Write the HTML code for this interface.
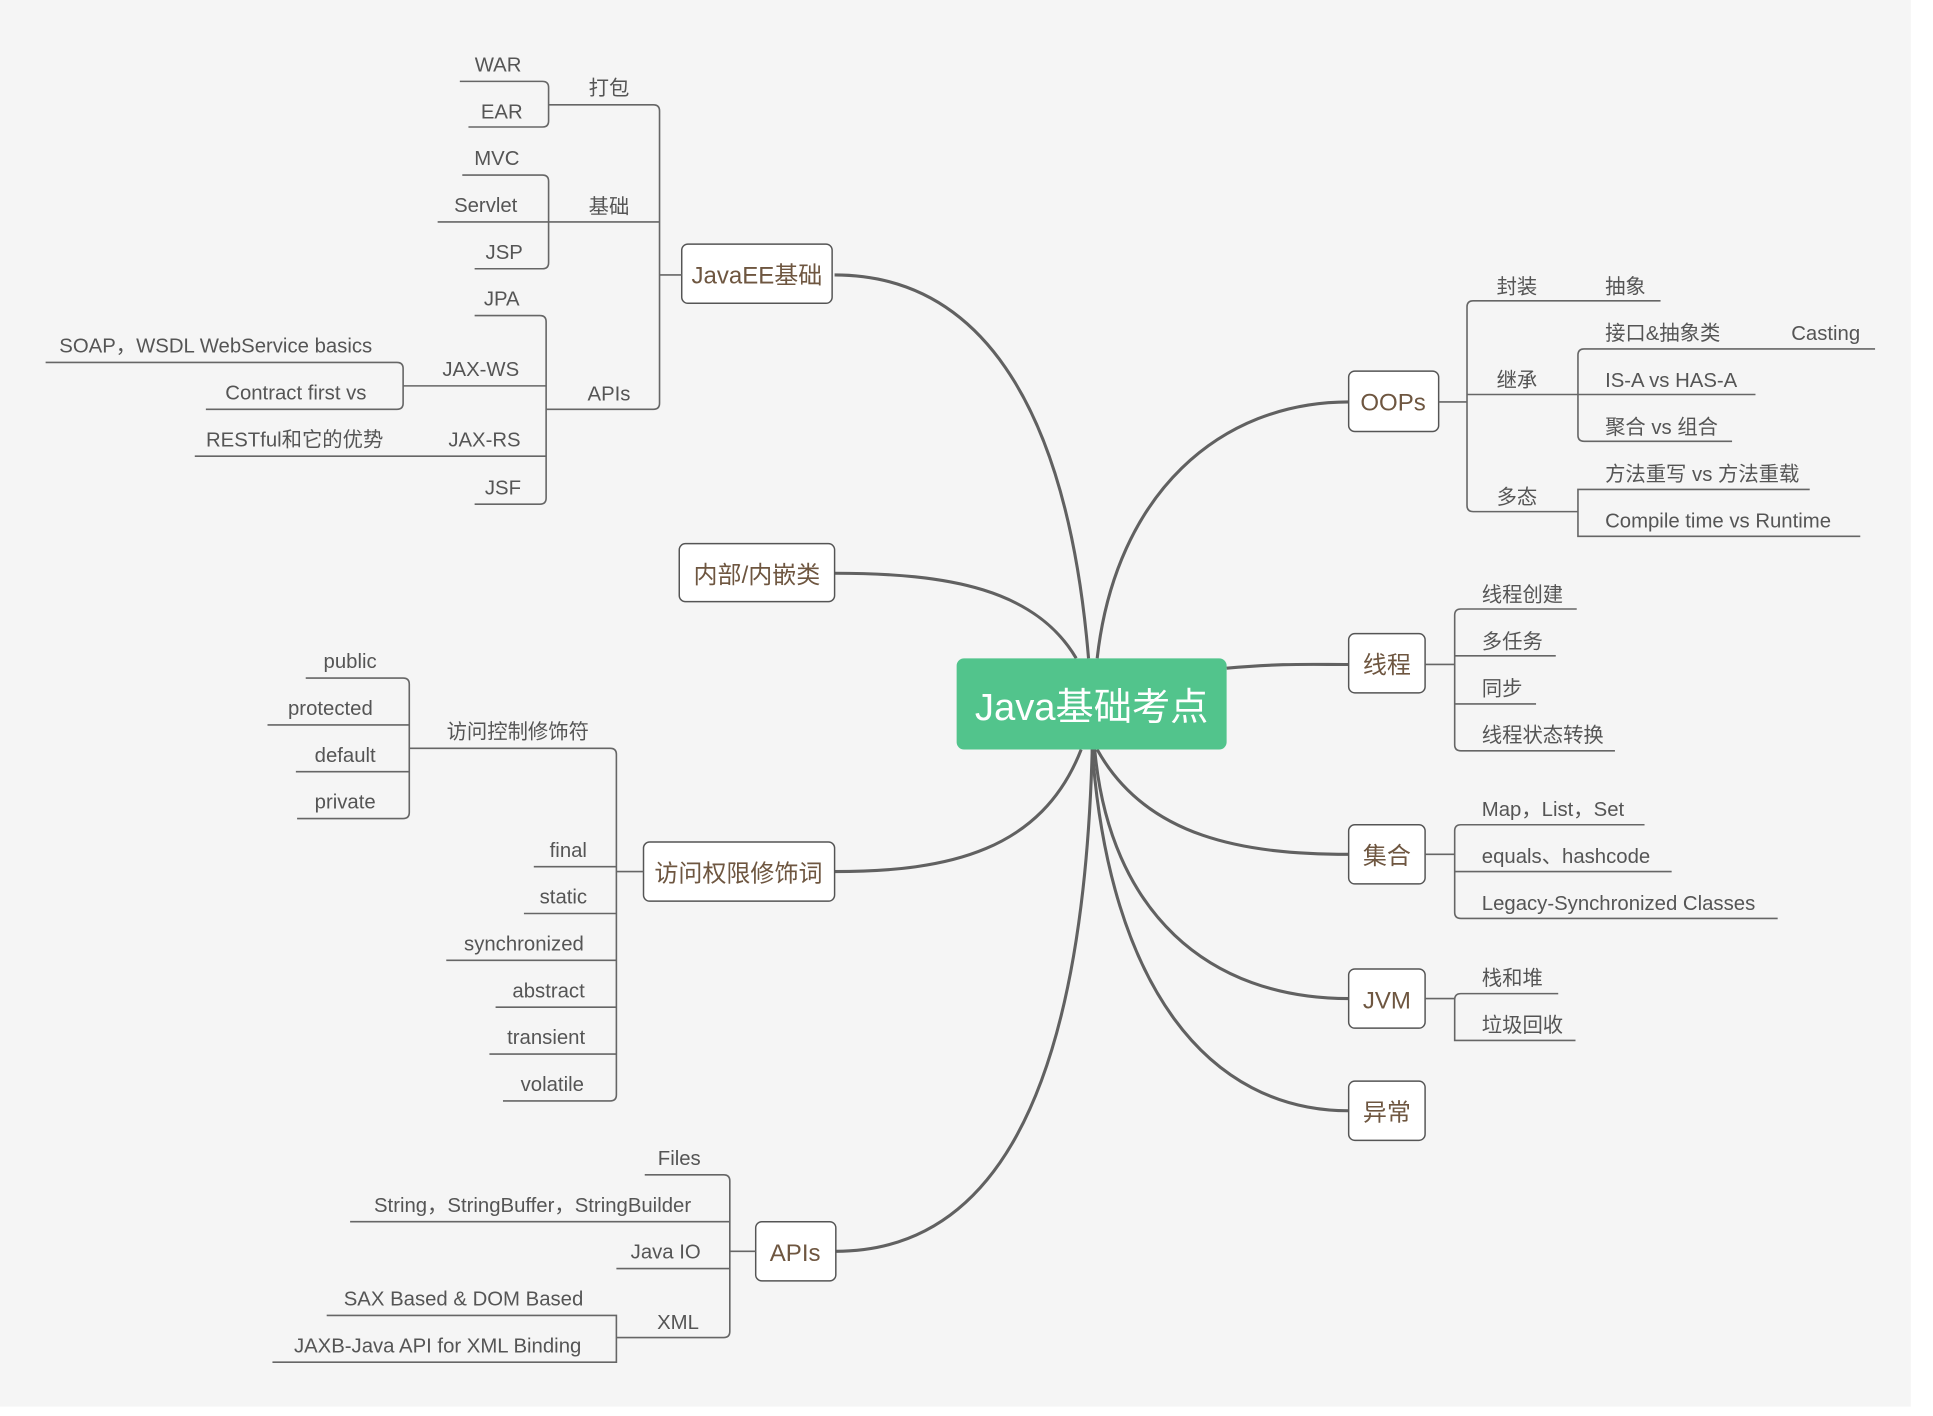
<!DOCTYPE html>
<html><head><meta charset="utf-8"><style>
html,body{margin:0;padding:0;background:#fff;width:1933px;height:1416px;overflow:hidden}
svg{display:block}
text{font-family:"Liberation Sans","Noto Sans CJK SC",sans-serif}
.l{font-size:16.5px;fill:#555}
.n{font-size:19.5px;fill:#6e5640}
.b{fill:none;stroke:#666;stroke-width:1.3}
.c{fill:none;stroke:#616161;stroke-width:2.5}
.box{fill:#fff;stroke:#555;stroke-width:1.2}
</style></head><body>
<svg width="1933" height="1416" viewBox="0 0 1568 1148.6">
<rect x="0" y="0" width="1550" height="1141" fill="#f5f5f5"/>
<!-- main curves -->
<path class="c" d="M883,534 C865,320 790,223 677,223"/>
<path class="c" d="M873,534 C840,478 770,465 677,465"/>
<path class="c" d="M877,608 C845,690 770,707 677,707"/>
<path class="c" d="M886,608 C878,900 800,1015 678,1015"/>
<path class="c" d="M890,534 C905,400 990,326 1094,326"/>
<path class="c" d="M995,542 C1040,538 1060,539 1094,539"/>
<path class="c" d="M890,608 C930,680 1010,693 1094,693"/>
<path class="c" d="M888,608 C900,740 980,810 1094,810"/>
<path class="c" d="M886,608 C900,800 980,901 1094,901"/>
<!-- center -->
<rect x="776" y="534" width="219" height="74" rx="6" fill="#52c48c"/>
<text x="885.5" y="584" text-anchor="middle" font-size="31" fill="#fff">Java基础考点</text>
<!-- nodes -->
<rect class="box" x="553" y="198" width="122" height="48" rx="5"/><text class="n" x="614" y="230" text-anchor="middle">JavaEE基础</text>
<rect class="box" x="551" y="441" width="126" height="47" rx="5"/><text class="n" x="614" y="473" text-anchor="middle">内部/内嵌类</text>
<rect class="box" x="522" y="683" width="155" height="48" rx="5"/><text class="n" x="599" y="715" text-anchor="middle">访问权限修饰词</text>
<rect class="box" x="613" y="991" width="65" height="48" rx="5"/><text class="n" x="645" y="1023" text-anchor="middle">APIs</text>
<rect class="box" x="1094" y="301" width="73" height="49" rx="5"/><text class="n" x="1130" y="333" text-anchor="middle">OOPs</text>
<rect class="box" x="1094" y="514" width="62" height="48" rx="5"/><text class="n" x="1125" y="546" text-anchor="middle">线程</text>
<rect class="box" x="1094" y="669" width="62" height="48" rx="5"/><text class="n" x="1125" y="701" text-anchor="middle">集合</text>
<rect class="box" x="1094" y="786" width="62" height="48" rx="5"/><text class="n" x="1125" y="818" text-anchor="middle">JVM</text>
<rect class="box" x="1094" y="877" width="62" height="48" rx="5"/><text class="n" x="1125" y="909" text-anchor="middle">异常</text>

<!-- JavaEE branch -->
<path class="b" d="M553,223 H535 M445,85 H530 Q535,85 535,90 V327 Q535,332 530,332 H443 M445,180 H535"/>
<text class="l" x="494" y="77" text-anchor="middle">打包</text>
<text class="l" x="494" y="173" text-anchor="middle">基础</text>
<text class="l" x="494" y="325" text-anchor="middle">APIs</text>
<path class="b" d="M373,66 H440 Q445,66 445,71 V98 Q445,103 440,103 H380"/>
<text class="l" x="404" y="58" text-anchor="middle">WAR</text>
<text class="l" x="407" y="96" text-anchor="middle">EAR</text>
<path class="b" d="M375,142 H440 Q445,142 445,147 V213 Q445,218 440,218 H385 M355,180 H445"/>
<text class="l" x="403" y="134" text-anchor="middle">MVC</text>
<text class="l" x="394" y="172" text-anchor="middle">Servlet</text>
<text class="l" x="409" y="210" text-anchor="middle">JSP</text>
<path class="b" d="M385,256 H438 Q443,256 443,261 V404 Q443,409 438,409 H385 M327,313 H443 M158,370 H443"/>
<text class="l" x="407" y="248" text-anchor="middle">JPA</text>
<text class="l" x="390" y="305" text-anchor="middle">JAX-WS</text>
<text class="l" x="393" y="362" text-anchor="middle">JAX-RS</text>
<text class="l" x="408" y="401" text-anchor="middle">JSF</text>
<path class="b" d="M37,294 H322 Q327,294 327,299 V327 Q327,332 322,332 H167"/>
<text class="l" x="175" y="286" text-anchor="middle">SOAP，WSDL WebService basics</text>
<text class="l" x="240" y="324" text-anchor="middle">Contract first vs</text>
<text class="l" x="239" y="362" text-anchor="middle">RESTful和它的优势</text>

<!-- access modifiers -->
<path class="b" d="M522,707 H500 M332,607 H495 Q500,607 500,612 V888 Q500,893 495,893 H408 M433,703 H500 M425,741 H500 M362,779 H500 M402,817 H500 M397,855 H500"/>
<text class="l" x="420" y="599" text-anchor="middle">访问控制修饰符</text>
<text class="l" x="461" y="695" text-anchor="middle">final</text>
<text class="l" x="457" y="733" text-anchor="middle">static</text>
<text class="l" x="425" y="771" text-anchor="middle">synchronized</text>
<text class="l" x="445" y="809" text-anchor="middle">abstract</text>
<text class="l" x="443" y="847" text-anchor="middle">transient</text>
<text class="l" x="448" y="885" text-anchor="middle">volatile</text>
<path class="b" d="M248,550 H327 Q332,550 332,555 V659 Q332,664 327,664 H241 M217,588 H332 M240,626 H332"/>
<text class="l" x="284" y="542" text-anchor="middle">public</text>
<text class="l" x="268" y="580" text-anchor="middle">protected</text>
<text class="l" x="280" y="618" text-anchor="middle">default</text>
<text class="l" x="280" y="656" text-anchor="middle">private</text>

<!-- APIs bottom -->
<path class="b" d="M613,1015 H592 M523,953 H587 Q592,953 592,958 V1080 Q592,1085 587,1085 H500 M284,991 H592 M500,1029 H592"/>
<text class="l" x="551" y="945" text-anchor="middle">Files</text>
<text class="l" x="432" y="983" text-anchor="middle">String，StringBuffer，StringBuilder</text>
<text class="l" x="540" y="1021" text-anchor="middle">Java IO</text>
<text class="l" x="550" y="1078" text-anchor="middle">XML</text>
<path class="b" d="M265,1067 H500 V1105 H221"/>
<text class="l" x="376" y="1059" text-anchor="middle">SAX Based &amp; DOM Based</text>
<text class="l" x="355" y="1097" text-anchor="middle">JAXB-Java API for XML Binding</text>

<!-- OOPs -->
<path class="b" d="M1167,326 H1190 M1347,244 H1195 Q1190,244 1190,249 V410 Q1190,415 1195,415 H1280 M1190,320 H1280"/>
<text class="l" x="1214" y="238">封装</text>
<text class="l" x="1302" y="238">抽象</text>
<text class="l" x="1214" y="314">继承</text>
<text class="l" x="1214" y="409">多态</text>
<path class="b" d="M1521,283 H1285 Q1280,283 1280,288 V353 Q1280,358 1285,358 H1405 M1280,320 H1424"/>
<text class="l" x="1302" y="276">接口&amp;抽象类</text>
<text class="l" x="1453" y="276">Casting</text>
<text class="l" x="1302" y="314">IS-A vs HAS-A</text>
<text class="l" x="1302" y="352">聚合 vs 组合</text>
<path class="b" d="M1468,397 H1280 V435 H1509"/>
<text class="l" x="1302" y="390">方法重写 vs 方法重载</text>
<text class="l" x="1302" y="428">Compile time vs Runtime</text>

<!-- 线程 -->
<path class="b" d="M1156,539 H1180 M1279,494 H1185 Q1180,494 1180,499 V604 Q1180,609 1185,609 H1310 M1180,532 H1262 M1180,571 H1246"/>
<text class="l" x="1202" y="488">线程创建</text>
<text class="l" x="1202" y="526">多任务</text>
<text class="l" x="1202" y="564">同步</text>
<text class="l" x="1202" y="602">线程状态转换</text>
<!-- 集合 -->
<path class="b" d="M1156,693 H1180 M1334,669 H1185 Q1180,669 1180,674 V740 Q1180,745 1185,745 H1442 M1180,707 H1356"/>
<text class="l" x="1202" y="662">Map，List，Set</text>
<text class="l" x="1202" y="700">equals、hashcode</text>
<text class="l" x="1202" y="738">Legacy-Synchronized Classes</text>
<!-- JVM -->
<path class="b" d="M1156,810 H1180 M1264,806 H1185 Q1180,806 1180,811 V844 H1278"/>
<text class="l" x="1202" y="799">栈和堆</text>
<text class="l" x="1202" y="837">垃圾回收</text>
</svg>
</body></html>
